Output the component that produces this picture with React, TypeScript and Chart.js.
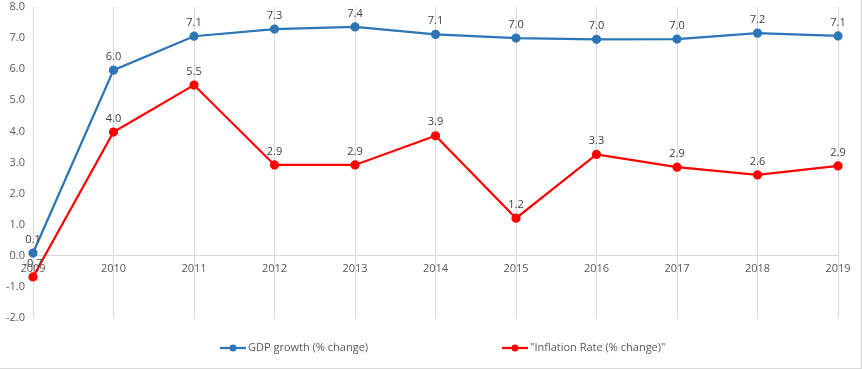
import React, { useEffect, useRef } from "react";
import { Chart, registerables } from "chart.js";

Chart.register(...registerables);

const years = ["2009", "2010", "2011", "2012", "2013", "2014", "2015", "2016", "2017", "2018", "2019"];
const gdpGrowth = [0.09, 5.97, 7.06, 7.29, 7.36, 7.12, 7.0, 6.96, 6.97, 7.16, 7.07];
const inflationRate = [-0.68, 3.98, 5.49, 2.92, 2.92, 3.86, 1.21, 3.26, 2.85, 2.6, 2.89];
const seriesNames = ["GDP growth (% change)", "\"Inflation Rate (% change)\""];
const seriesColors = ["#2E75B6", "#FF0000"];
const yMin = -2;
const yMax = 8;

const FONT = "'Open Sans', 'Liberation Sans', sans-serif";

const labelPlugin = {
  id: "pointLabels",
  afterDatasetsDraw(chart: any) {
    const ctx = chart.ctx;
    ctx.save();
    ctx.font = `11px ${FONT}`;
    ctx.fillStyle = "#404040";
    ctx.textAlign = "center";
    ctx.textBaseline = "bottom";
    chart.data.datasets.forEach((ds: any, di: number) => {
      const meta = chart.getDatasetMeta(di);
      meta.data.forEach((pt: any, i: number) => {
        const v = ds.data[i] as number;
        ctx.fillText(v.toFixed(1), pt.x, pt.y - 8);
      });
    });
    ctx.restore();
  },
};

const legendPlugin = {
  id: "customLegend",
  afterDraw(chart: any) {
    const ctx = chart.ctx;
    const y = 348;
    const items = [
      { x: 220, label: seriesNames[0], color: seriesColors[0] },
      { x: 502, label: seriesNames[1], color: seriesColors[1] },
    ];
    ctx.save();
    ctx.font = `11px ${FONT}`;
    ctx.textBaseline = "middle";
    ctx.textAlign = "left";
    items.forEach((it) => {
      ctx.strokeStyle = it.color;
      ctx.lineWidth = 2.25;
      ctx.beginPath();
      ctx.moveTo(it.x, y);
      ctx.lineTo(it.x + 26, y);
      ctx.stroke();
      ctx.fillStyle = it.color;
      ctx.beginPath();
      ctx.arc(it.x + 13, y, 3.5, 0, Math.PI * 2);
      ctx.fill();
      ctx.fillStyle = "#595959";
      ctx.fillText(it.label, it.x + 28, y);
    });
    ctx.restore();
  },
};

export default function App() {
  const ref = useRef<HTMLCanvasElement>(null);
  useEffect(() => {
    document.body.style.margin = "0";
    const chart = new Chart(ref.current!, {
      type: "line",
      data: {
        labels: years,
        datasets: [
          {
            label: seriesNames[0],
            data: gdpGrowth,
            borderColor: seriesColors[0],
            backgroundColor: seriesColors[0],
            borderWidth: 2.25,
            pointRadius: 3.5,
            pointHoverRadius: 3.5,
            tension: 0,
          },
          {
            label: seriesNames[1],
            data: inflationRate,
            borderColor: seriesColors[1],
            backgroundColor: seriesColors[1],
            borderWidth: 2.25,
            pointRadius: 3.5,
            pointHoverRadius: 3.5,
            tension: 0,
          },
        ],
      },
      options: {
        animation: false,
        responsive: false,
        layout: { padding: { left: 0, top: 7, right: 23, bottom: 50 } },
        plugins: { legend: { display: false }, tooltip: { enabled: false } },
        scales: {
          x: {
            position: { y: 0 } as any,
            offset: false,
            grid: { color: "#D9D9D9", lineWidth: 1, drawTicks: false },
            border: { color: "#D9D9D9", width: 1 },
            ticks: { color: "#595959", font: { family: FONT, size: 11 }, padding: 6, maxRotation: 0 },
          },
          y: {
            min: yMin,
            max: yMax,
            afterFit: (scale: any) => {
              scale.width = 33;
              scale.paddingTop = 0;
              scale.paddingBottom = 0;
            },
            grid: { display: false, drawTicks: false },
            border: { display: false },
            ticks: {
              stepSize: 1,
              color: "#595959",
              font: { family: FONT, size: 11 },
              padding: 8,
              callback: (v: any) => Number(v).toFixed(1),
            },
          },
        },
      },
      plugins: [labelPlugin, legendPlugin],
    });
    return () => chart.destroy();
  }, []);
  return (
    <div style={{ width: 861, height: 368, borderRight: "1px solid #D9D9D9", borderBottom: "1px solid #D9D9D9" }}>
      <canvas ref={ref} width={861} height={368} style={{ display: "block" }} />
    </div>
  );
}
